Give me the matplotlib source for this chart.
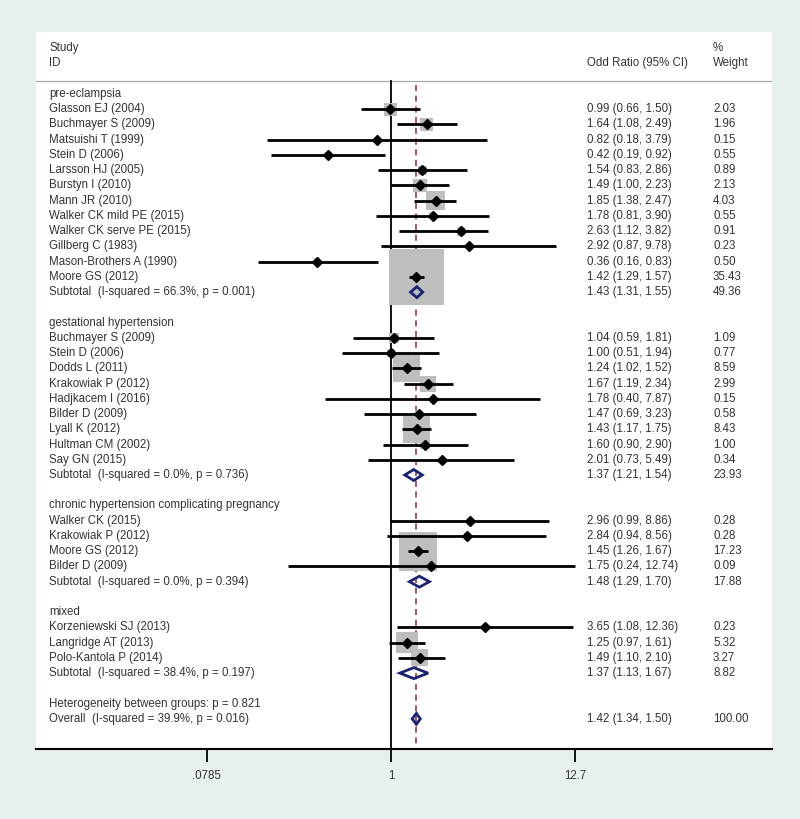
import numpy as np
import matplotlib
matplotlib.use("Agg")
import matplotlib.pyplot as plt
from matplotlib.patches import Polygon, Rectangle
import matplotlib.transforms as mtransforms

plt.rcParams['font.family'] = ['Liberation Sans', 'DejaVu Sans']

# groups of studies
groups = ["pre-eclampsia", "gestational hypertension",
          "chronic hypertension complicating pregnancy", "mixed"]

study_names = [
    ["Glasson EJ (2004)", "Buchmayer S (2009)", "Matsuishi T (1999)", "Stein D (2006)",
     "Larsson HJ (2005)", "Burstyn I (2010)", "Mann JR (2010)", "Walker CK mild PE (2015)",
     "Walker CK serve PE (2015)", "Gillberg C (1983)", "Mason-Brothers A (1990)", "Moore GS (2012)"],
    ["Buchmayer S (2009)", "Stein D (2006)", "Dodds L (2011)", "Krakowiak P (2012)",
     "Hadjkacem I (2016)", "Bilder D (2009)", "Lyall K (2012)", "Hultman CM (2002)", "Say GN (2015)"],
    ["Walker CK (2015)", "Krakowiak P (2012)", "Moore GS (2012)", "Bilder D (2009)"],
    ["Korzeniewski SJ (2013)", "Langridge AT (2013)", "Polo-Kantola P (2014)"],
]
study_or = [
    [0.99, 1.64, 0.82, 0.42, 1.54, 1.49, 1.85, 1.78, 2.63, 2.92, 0.36, 1.42],
    [1.04, 1.00, 1.24, 1.67, 1.78, 1.47, 1.43, 1.60, 2.01],
    [2.96, 2.84, 1.45, 1.75],
    [3.65, 1.25, 1.49],
]
study_lo = [
    [0.66, 1.08, 0.18, 0.19, 0.83, 1.00, 1.38, 0.81, 1.12, 0.87, 0.16, 1.29],
    [0.59, 0.51, 1.02, 1.19, 0.40, 0.69, 1.17, 0.90, 0.73],
    [0.99, 0.94, 1.26, 0.24],
    [1.08, 0.97, 1.10],
]
study_hi = [
    [1.50, 2.49, 3.79, 0.92, 2.86, 2.23, 2.47, 3.90, 3.82, 9.78, 0.83, 1.57],
    [1.81, 1.94, 1.52, 2.34, 7.87, 3.23, 1.75, 2.90, 5.49],
    [8.86, 8.56, 1.67, 12.74],
    [12.36, 1.61, 2.10],
]
study_w = [
    [2.03, 1.96, 0.15, 0.55, 0.89, 2.13, 4.03, 0.55, 0.91, 0.23, 0.50, 35.43],
    [1.09, 0.77, 8.59, 2.99, 0.15, 0.58, 8.43, 1.00, 0.34],
    [0.28, 0.28, 17.23, 0.09],
    [0.23, 5.32, 3.27],
]
sub_text = ["Subtotal  (I-squared = 66.3%, p = 0.001)",
            "Subtotal  (I-squared = 0.0%, p = 0.736)",
            "Subtotal  (I-squared = 0.0%, p = 0.394)",
            "Subtotal  (I-squared = 38.4%, p = 0.197)"]
sub_or = [1.43, 1.37, 1.48, 1.37]
sub_lo = [1.31, 1.21, 1.29, 1.13]
sub_hi = [1.55, 1.54, 1.70, 1.67]
sub_w = [49.36, 23.93, 17.88, 8.82]

het_text = "Heterogeneity between groups: p = 0.821"
overall_text = "Overall  (I-squared = 39.9%, p = 0.016)"
overall_or, overall_lo, overall_hi, overall_w = 1.42, 1.34, 1.50, 100.00

tick_vals = [0.0785, 1, 12.7]
tick_labels = [".0785", "1", "12.7"]

bg = '#e8eff1'
txt_col = '#333333'
navy = '#1a2372'
maroon = '#8e2b3c'
fs = 8.3

W, H = 800, 819
fig = plt.figure(figsize=(W / 100, H / 100), dpi=100)
fig.patch.set_facecolor(bg)

left, right, top, bottom = 36, 772, 32, 749
ax = fig.add_axes([left / W, 1 - bottom / H, (right - left) / W, (bottom - top) / H])
ax.set_facecolor('white')
ax.set_xscale('log')
px_per_ln = 72.35
x_one = 391
ax.set_xlim(np.exp((left - x_one) / px_per_ln), np.exp((right - x_one) / px_per_ln))
row0, row_h = 94, 15.24
ax.set_ylim((bottom - row0) / row_h, (top - row0) / row_h)

for s in ['top', 'left', 'right']:
    ax.spines[s].set_visible(False)
ax.spines['bottom'].set_linewidth(1.5)
ax.set_yticks([])
ax.set_xticks(tick_vals)
ax.set_xticklabels(tick_labels)
ax.minorticks_off()
ax.tick_params(axis='x', length=9, width=1.3, pad=6, labelsize=fs, labelcolor=txt_col)

trans = mtransforms.blended_transform_factory(ax.transAxes, ax.transData)
x_lab = (49 - left) / (right - left)
x_ci = (587 - left) / (right - left)
x_wt = (713 - left) / (right - left)

def put(row, label, ci=None, wt=None):
    ax.text(x_lab, row, label, transform=trans, fontsize=fs, color=txt_col, va='center')
    if ci is not None:
        ax.text(x_ci, row, ci, transform=trans, fontsize=fs, color=txt_col, va='center')
    if wt is not None:
        ax.text(x_wt, row, wt, transform=trans, fontsize=fs, color=txt_col, va='center')

# header
ax.text(x_lab, -3.0, "Study", transform=trans, fontsize=fs, color=txt_col, va='center')
ax.text(x_lab, -2.02, "ID", transform=trans, fontsize=fs, color=txt_col, va='center')
ax.text(x_ci, -2.02, "Odd Ratio (95% CI)", transform=trans, fontsize=fs, color=txt_col, va='center')
ax.text(x_wt, -3.0, "%", transform=trans, fontsize=fs, color=txt_col, va='center')
ax.text(x_wt, -2.02, "Weight", transform=trans, fontsize=fs, color=txt_col, va='center')
ax.plot([0, 1], [-0.85, -0.85], transform=trans, color='#aaaaaa', lw=0.9)

# reference lines
ax.plot([1, 1], [-0.85, 43], color='black', lw=1.3, zorder=2)
ax.plot([overall_or, overall_or], [-0.6, 43], color=maroon, lw=1.1,
        ls=(0, (4, 3)), zorder=2)

def px_to_x(xc, dpx):
    return xc * np.exp(dpx / px_per_ln)

def diamond(row, lo, mid, hi):
    hh = 0.36
    poly = Polygon([[lo, row], [mid, row - hh], [hi, row], [mid, row + hh]],
                   closed=True, fill=False, edgecolor=navy, lw=2.0, zorder=5)
    ax.add_patch(poly)

box_k = 9.3
row = 0
for g in range(len(groups)):
    put(row, groups[g])
    row += 1
    for i in range(len(study_names[g])):
        o, lo, hi, w = study_or[g][i], study_lo[g][i], study_hi[g][i], study_w[g][i]
        put(row, study_names[g][i], "%.2f (%.2f, %.2f)" % (o, lo, hi), "%.2f" % w)
        side = box_k * np.sqrt(w)
        xl = px_to_x(o, -side / 2)
        xr = px_to_x(o, side / 2)
        ax.add_patch(Rectangle((xl, row - side / 2 / row_h), xr - xl, side / row_h,
                               facecolor='#bebebe', edgecolor='none', zorder=3))
        ax.plot([lo, hi], [row, row], color='black', lw=2.0, zorder=4, solid_capstyle='butt')
        ax.plot([o], [row], marker='D', ms=4.6, color='black', zorder=5)
        row += 1
    put(row, sub_text[g], "%.2f (%.2f, %.2f)" % (sub_or[g], sub_lo[g], sub_hi[g]), "%.2f" % sub_w[g])
    diamond(row, sub_lo[g], sub_or[g], sub_hi[g])
    row += 2

put(row, het_text)
row += 1
put(row, overall_text, "%.2f (%.2f, %.2f)" % (overall_or, overall_lo, overall_hi), "%.2f" % overall_w)
diamond(row, overall_lo, overall_or, overall_hi)

fig.savefig("out.png", dpi=100, facecolor=bg)
